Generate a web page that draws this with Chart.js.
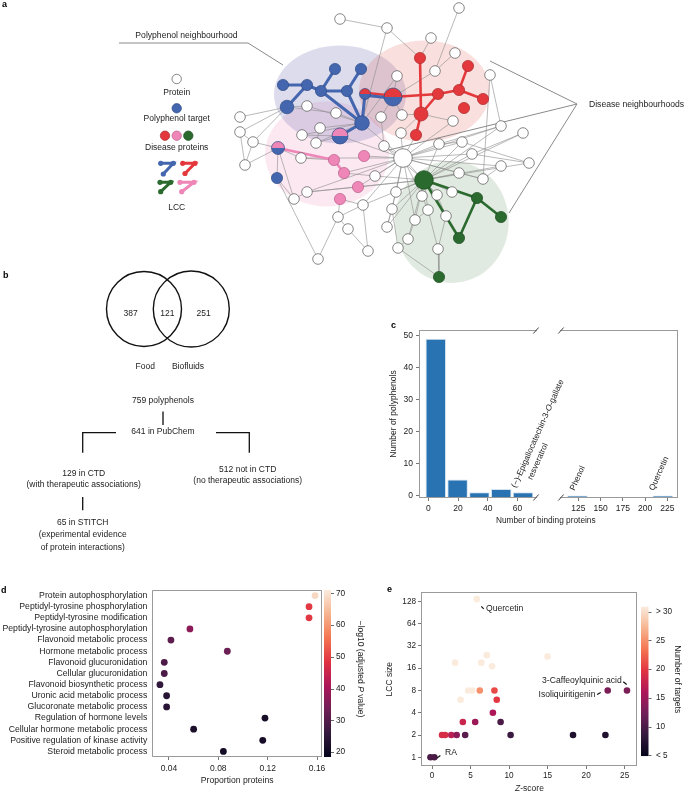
<!DOCTYPE html>
<html>
<head>
<meta charset="utf-8">
<script src="https://cdn.jsdelivr.net/npm/chart.js@4.4.1/dist/chart.umd.min.js"></script>
<style>
    html, body { margin: 0; padding: 0; background: #fff; }
    body { position: relative; width: 685px; height: 792px; overflow: hidden; font-family: "Liberation Sans", Arial, sans-serif; }
    .panel { position: absolute; }
    .tag { position: absolute; font-weight: bold; font-size: 9px; line-height: 10px; color: #000; }
</style>
</head>
<body>
<div class="panel" style="left:0;top:0;width:685px;height:285px"><canvas id="chartA"></canvas></div>
<div class="panel" style="left:0;top:262px;width:380px;height:300px"><canvas id="chartB"></canvas></div>
<div class="panel" style="left:378px;top:318px;width:307px;height:212px"><canvas id="chartC1"></canvas></div>
<div class="panel" style="left:540px;top:318px;width:145px;height:212px"><canvas id="chartC2"></canvas></div>
<div class="panel" style="left:0;top:582px;width:372px;height:210px"><canvas id="chartD"></canvas></div>
<div class="panel" style="left:378px;top:585px;width:307px;height:207px"><canvas id="chartE"></canvas></div>
<div class="tag" style="left:2px;top:-1px">a</div>
<div class="tag" style="left:3px;top:270px">b</div>
<div class="tag" style="left:391px;top:320px">c</div>
<div class="tag" style="left:1px;top:585px">d</div>
<div class="tag" style="left:387px;top:584px">e</div>

<script>
var FONT = '"Liberation Sans", Arial, Helvetica, sans-serif';
var INK = '#222';

// ---- a: interactome (node layout in figure pixels)
var proteinNodes = {
    w0: [459, 8], w1: [340, 19], w2: [387, 28], w3: [431, 38], w4: [455, 53], w5: [435, 71], w6: [397, 76],
    w7: [490, 75], w8: [307, 106], w9: [336, 113], w10: [381, 117], w11: [402, 115], w12: [240, 117],
    w13: [453, 121], w14: [240, 132], w15: [320, 128], w16: [253, 142], w17: [302, 135], w18: [316, 143],
    w19: [401, 133], w20: [501, 126], w21: [523, 133], w22: [384, 146], w23: [439, 144], w24: [462, 142],
    w25: [403, 158], w26: [472, 154], w27: [301, 158], w28: [245, 165], w29: [501, 166], w30: [529, 163],
    w31: [459, 173], w32: [483, 179], w33: [375, 176], w34: [307, 192], w35: [396, 192], w36: [422, 196],
    w37: [437, 195], w38: [452, 192], w39: [294, 199], w40: [363, 205], w41: [392, 209], w42: [428, 210],
    w43: [446, 216], w44: [338, 217], w45: [415, 220], w46: [387, 227], w47: [348, 229], w48: [408, 239],
    w49: [398, 248], w50: [438, 249], w51: [368, 251], w52: [318, 259]
};
var targetNodes = { b0: [335, 69], b1: [361, 69], b2: [283, 85], b3: [307, 85], b4: [321, 91], b5: [347, 91], b6: [287, 107], b7: [362, 123], b8: [277, 178] };
var redDiseaseNodes = { r0: [420, 58], r1: [468, 66], r2: [438, 94], r3: [459, 90], r4: [483, 99], r5: [464, 108], r6: [421, 114], r7: [416, 135] };
var pinkDiseaseNodes = { p0: [334, 160], p1: [364, 156], p2: [344, 173], p3: [358, 187], p4: [340, 199] };
var greenDiseaseNodes = { g0: [424, 180], g1: [477, 198], g2: [501, 217], g3: [459, 238], g4: [439, 277] };
var sharedNodes = { h0: [365, 94], h1: [393, 97], h2: [340, 136], h3: [278, 148] };
var sharedGroups = { h0: ['red', 'blue'], h1: ['red', 'blue'], h2: ['pink', 'blue'], h3: ['pink', 'blue'] };
var ppiEdges = [
    'w1-w2', 'w2-r0', 'w2-b7', 'w0-w5', 'w3-r0', 'w4-w5', 'w5-h1', 'w6-h1', 'w6-b7', 'w7-w20', 'w7-w32', 'w10-h1',
    'w11-h1', 'w11-r6', 'w19-r6', 'w13-r6', 'w13-w25', 'w19-w25', 'w22-w25', 'w22-w10', 'w23-w25', 'w24-w25',
    'w26-w25', 'w20-w25', 'w20-w23', 'w21-w26', 'w29-w25', 'w30-w24', 'w31-w25', 'w32-w25', 'w32-w29', 'w35-w25',
    'w36-w25', 'w37-w25', 'w41-w25', 'w45-w25', 'w40-w25', 'w33-w25', 'w27-w25', 'w34-w25', 'p1-w25', 'p2-w25',
    'p3-w25', 'r7-w25', 'h2-w25', 'b7-w25', 'w12-b6', 'w14-b6', 'w16-b6', 'w14-w16', 'w16-h3', 'w28-h3',
    'w28-w16', 'w28-w14', 'w8-b7', 'w9-b7', 'w15-b7', 'w17-b7', 'w18-b7', 'w15-w18', 'w17-h2', 'w18-h2',
    'w9-b6', 'w8-b6', 'h3-b8', 'b8-w52', 'h3-w39', 'w39-w34', 'w39-b8', 'w27-p0', 'w27-h3', 'w34-p3', 'w33-p2',
    'p4-w44', 'p4-w40', 'g0-w35', 'g0-w36', 'g0-w37', 'g0-w38', 'g0-w41', 'g0-w42', 'g0-w45', 'g0-w48',
    'g0-w46', 'g0-w40', 'g0-w31', 'g0-w24', 'g0-w26', 'g0-w29', 'g0-w21', 'g0-w22', 'g0-w33', 'g0-w34',
    'g0-p3', 'g0-w23', 'g0-w30', 'g0-w20', 'w43-w50', 'w50-g4', 'g4-w49', 'w49-w48', 'w48-w45', 'w50-w42',
    'w44-w40', 'w47-w44', 'w47-w51', 'w51-w40', 'w52-w44', 'w46-w41', 'w42-w45', 'w35-w46', 'w41-w49',
    'w36-w42', 'w37-w43', 'w31-w32', 'w23-w24', 'w26-w30'
];
var lccBlue = ['b2-b3', 'b3-b4', 'b4-b5', 'b0-b4', 'b1-b5', 'b6-b3', 'b4-b7', 'b5-b7', 'b7-h0', 'b7-h2', 'h0-h1'];
var lccRed = ['h0-h1', 'h1-r2', 'r0-r6', 'r6-r2', 'r6-r7', 'r2-r3', 'r3-r1', 'r3-r4'];
var lccPink = ['h3-p0', 'p0-p2'];
var lccGreen = ['g0-g1', 'g1-g2', 'g1-g3', 'g3-g0'];
var legendLabels = ['Protein', 'Polyphenol target', 'Disease proteins', 'LCC'];

// ---- b: polyphenol sets
var vennCounts = [387, 121, 251];
var vennSets = ['Food', 'Biofluids'];
var flowTop = ['759 polyphenols', '641 in PubChem'];
var flowInCtd = ['129 in CTD', '(with therapeutic associations)'];
var flowNotCtd = ['512 not in CTD', '(no therapeutic associations)'];
var flowStitch = ['65 in STITCH', '(experimental evidence', 'of protein interactions)'];

// ---- c: binding proteins per polyphenol
var binCentres = [5, 19.7, 34.4, 49.1, 63.8];
var binCounts = [49, 5, 1, 2, 1];
var binTicks = [0, 20, 40, 60];
var countTicks = [0, 10, 20, 30, 40, 50];
var lastBinNames = ['(\u2212)-Epigallocatechin-3-O-gallate', 'resveratrol'];
var outlierNames = ['Phenol', 'Quercetin'];
var outlierProteins = [124, 220];
var outlierCounts = [1, 1];
var outlierTicks = [125, 150, 175, 200, 225];

// ---- d: GO enrichment
var goTerms = [
    'Protein autophosphorylation', 'Peptidyl-tyrosine phosphorylation', 'Peptidyl-tyrosine modification',
    'Peptidyl-tyrosine autophosphorylation', 'Flavonoid metabolic process', 'Hormone metabolic process',
    'Flavonoid glucuronidation', 'Cellular glucuronidation', 'Flavonoid biosynthetic process',
    'Uronic acid metabolic process', 'Glucoronate metabolic process', 'Regulation of hormone levels',
    'Cellular hormone metabolic process', 'Positive regulation of kinase activity', 'Steroid metabolic process'
];
var goProportion = [0.1584, 0.1535, 0.1535, 0.057, 0.0416, 0.0873, 0.0362, 0.0362, 0.0327, 0.0381, 0.0381, 0.1178, 0.06, 0.116, 0.0841];
var goLogP = [68.5, 49, 49, 37, 31, 33, 29, 29, 25.5, 24, 24, 21.5, 22, 21.5, 21];
var propTicks = [0.04, 0.08, 0.12, 0.16];
var logPTicks = [20, 30, 40, 50, 60, 70];

// ---- e: LCC size vs z-score
var zScores = [5.8, 3.0, 7.1, 6.4, 7.8, 15.0, 4.7, 5.2, 3.7, 6.2, 8.1, 8.4, 7.9, 4.0, 5.6, 8.9, 1.3, 1.7, 2.5, 3.2, 4.3, 10.2, 18.3, 22.5, 22.8, 25.3, -0.2, 0.3];
var lccSizes = [137, 19, 24, 19, 17, 23, 8, 8, 6, 8, 8, 6, 4, 3, 3, 3, 2, 2, 2, 2, 2, 2, 2, 2, 8, 8, 1, 1];
var targetCounts = [31, 31, 31, 31, 31, 31, 31, 31, 31, 25, 21, 20, 16, 18, 15, 10, 19, 19, 17, 14, 11, 9, 7, 7, 13, 13, 10, 10];
var zTicks = [0, 5, 10, 15, 20, 25];
var lccTicks = [1, 2, 4, 8, 16, 32, 64, 128];
var targetTicks = [5, 10, 15, 20, 25, 30];
var namedPolyphenols = ['Quercetin', '3-Caffeoylquinic acid', 'Isoliquiritigenin', 'RA'];
var namedIndex = [0, 25, 24, 27];

var rocketStops = ['#03051a', '#35193e', '#701f57', '#ad1759', '#e13342', '#f37651', '#f6b48f', '#faebdd'];

function hexRgb(h) {
    return [parseInt(h.substr(1, 2), 16), parseInt(h.substr(3, 2), 16), parseInt(h.substr(5, 2), 16)];
}

function rocket(t) {
    t = Math.max(0, Math.min(1, t));
    var n = rocketStops.length - 1, p = t * n, i = Math.min(Math.floor(p), n - 1), f = p - i;
    var a = hexRgb(rocketStops[i]), b = hexRgb(rocketStops[i + 1]);
    return 'rgb(' + [0, 1, 2].map(function (k) { return Math.round(a[k] + (b[k] - a[k]) * f); }).join(',') + ')';
}

// text with optional italic pieces, e.g. ['adjusted ', {text: 'P', italic: true}, ' value']
function drawRich(ctx, parts, x, y, opt)
{
    opt = opt || {};
    var size = opt.size || 8.5;
    parts = parts.map(function (p) { return typeof p === 'string' ? {text: p} : p; });
    ctx.save();
    ctx.translate(x, y);
    ctx.rotate(opt.rot || 0);
    ctx.fillStyle = opt.color || INK;
    ctx.textBaseline = opt.baseline || 'middle';
    ctx.textAlign = 'left';
    var widths = parts.map(function (p) {
        ctx.font = (p.italic ? 'italic ' : '') + size + 'px ' + FONT;
        return ctx.measureText(p.text).width;
    });
    var total = widths.reduce(function (a, b) { return a + b; }, 0);
    var cx = opt.align === 'center' ? -total / 2 : (opt.align === 'right' ? -total : 0);
    parts.forEach(function (p, i) {
        ctx.font = (p.italic ? 'italic ' : '') + size + 'px ' + FONT;
        ctx.fillText(p.text, cx, 0);
        cx += widths[i];
    });
    ctx.restore();
}

Chart.defaults.font.family = FONT;
Chart.defaults.font.size = 8.5;
Chart.defaults.color = INK;
Chart.defaults.animation = false;
Chart.defaults.events = [];
Chart.defaults.maintainAspectRatio = false;
Chart.defaults.layout.autoPadding = false;
Chart.defaults.plugins.legend.display = false;
Chart.defaults.plugins.tooltip.enabled = false;

let FigureClass = function ()
{
    var _self = this;
    var COL = {
        blue: '#4466ae', red: '#e4393c', pink: '#ee86b7', green: '#2b6a2f',
        blueEdge: '#2d4a86', redEdge: '#a82a2c', pinkEdge: '#b8608a', greenEdge: '#1b4a1f'
    };
    var tickGrid = { display: true, drawOnChartArea: false, drawTicks: true, tickLength: 3, color: '#555', lineWidth: 0.8 };
    var hiddenGrid = function (len) {
        return { display: true, drawOnChartArea: false, drawTicks: true, tickLength: len, color: 'rgba(0,0,0,0)' };
    };
    var fixedTicks = function (list) {
        return function (scale) {
            scale.ticks = list.map(function (v) { return {value: v}; });
        };
    };

    this.el = function (id)
    {
        return document.getElementById(id);
    }

    this.diagramScales = function (x0, x1, y0, y1)
    {
        return {
            x: { type: 'linear', display: false, min: x0, max: x1 },
            y: { type: 'linear', display: false, min: y0, max: y1, reverse: true }
        };
    }

    this.frame = function (sides, breakSide)
    {
        return {
            id: 'frame',
            afterDraw: function (chart) {
                var a = chart.chartArea, ctx = chart.ctx;
                var l = Math.round(a.left) + 0.5, r = Math.round(a.right) - 0.5;
                var t = Math.round(a.top) + 0.5, b = Math.round(a.bottom) - 0.5;
                ctx.save();
                ctx.strokeStyle = '#9a9a9a';
                ctx.lineWidth = 1;
                ctx.beginPath();
                if (sides.indexOf('l') >= 0) { ctx.moveTo(l, t); ctx.lineTo(l, b); }
                if (sides.indexOf('r') >= 0) { ctx.moveTo(r, t); ctx.lineTo(r, b); }
                if (sides.indexOf('t') >= 0) { ctx.moveTo(a.left, t); ctx.lineTo(a.right, t); }
                if (sides.indexOf('b') >= 0) { ctx.moveTo(a.left, b); ctx.lineTo(a.right, b); }
                ctx.stroke();
                if (breakSide) {
                    var bx = breakSide === 'right' ? a.right - 1 : a.left + 1;
                    ctx.strokeStyle = '#444';
                    ctx.beginPath();
                    [t, b].forEach(function (y) {
                        ctx.moveTo(bx - 2.7, y + 3);
                        ctx.lineTo(bx + 2.7, y - 3);
                    });
                    ctx.stroke();
                }
                ctx.restore();
            }
        };
    }

    this.colourbar = function (id, from, to, gap, width, ticks)
    {
        return {
            id: id,
            afterDraw: function (chart) {
                var ctx = chart.ctx, s = chart.scales.cb, a = chart.chartArea;
                var x0 = a.right + gap, yTop = s.getPixelForValue(to), yBot = s.getPixelForValue(from);
                var grad = ctx.createLinearGradient(0, yBot, 0, yTop);
                for (var k = 0; k <= 28; k++) {
                    grad.addColorStop(k / 28, rocket(k / 28));
                }
                ctx.save();
                ctx.fillStyle = grad;
                ctx.fillRect(x0, yTop, width, yBot - yTop);
                ctx.strokeStyle = '#444';
                ctx.lineWidth = 0.8;
                ticks.forEach(function (v) {
                    var y = Math.round(s.getPixelForValue(v)) + 0.5;
                    ctx.beginPath();
                    ctx.moveTo(x0 + width, y);
                    ctx.lineTo(x0 + width + 3, y);
                    ctx.stroke();
                });
                ctx.restore();
            }
        };
    }

    this.buildNetwork = function ()
    {
        var allNodes = Object.assign({}, proteinNodes, targetNodes, redDiseaseNodes, pinkDiseaseNodes, greenDiseaseNodes, sharedNodes);
        var nodeRadius = { w25: 9.3, g0: 9.3, h1: 9, h2: 8, b7: 7.3, r6: 7, b6: 6.8, h3: 6.5, h0: 5.5 };
        var point = function (id) { return {x: allNodes[id][0], y: allNodes[id][1]}; };

        var nodeSet = function (group, fill, stroke, baseR) {
            var ids = Object.keys(group);
            return {
                data: ids.map(point),
                pointRadius: ids.map(function (id) { return nodeRadius[id] || baseR; }),
                pointBackgroundColor: fill, pointBorderColor: stroke, pointBorderWidth: 0.7,
                order: 0
            };
        };
        var edgeSets = function (list, colour, width, order, name) {
            return list.map(function (e) {
                var ab = e.split('-'), a = point(ab[0]), b = point(ab[1]);
                // the shared red/blue link is drawn as two parallel strokes
                if (e === 'h0-h1') {
                    var dy = name === 'red' ? -1.2 : 1.2;
                    a = {x: a.x, y: a.y + dy};
                    b = {x: b.x, y: b.y + dy};
                }
                return { data: [a, b], showLine: true, pointRadius: 0, borderColor: colour, borderWidth: width, order: order };
            });
        };

        var datasets = [
            nodeSet(proteinNodes, '#ffffff', '#555555', 5.3),
            nodeSet(targetNodes, COL.blue, COL.blueEdge, 5.6),
            nodeSet(redDiseaseNodes, COL.red, COL.redEdge, 5.6),
            nodeSet(pinkDiseaseNodes, COL.pink, COL.pinkEdge, 5.6),
            nodeSet(greenDiseaseNodes, COL.green, COL.greenEdge, 5.6),
            {
                data: [{x: 176.7, y: 79}, {x: 176.7, y: 108.3}, {x: 165, y: 135.7}, {x: 176.7, y: 135.7}, {x: 188.3, y: 135.7}],
                pointRadius: 4.7,
                pointBackgroundColor: ['#ffffff', COL.blue, COL.red, COL.pink, COL.green],
                pointBorderColor: ['#555555', COL.blueEdge, COL.redEdge, COL.pinkEdge, COL.greenEdge],
                pointBorderWidth: 0.7, order: 0
            }
        ];
        [
            ['blue', [[160.7, 163.3], [173.3, 163.3], [163.3, 174]]],
            ['red', [[182.7, 163.3], [195, 163.3], [185, 173.5]]],
            ['green', [[160, 182.3], [170.7, 182.3], [160.7, 191.7]]],
            ['pink', [[180, 182.3], [194, 182.3], [181.7, 191.7]]]
        ].forEach(function (g) {
            datasets.push({
                data: g[1].map(function (p) { return {x: p[0], y: p[1]}; }),
                showLine: true, borderColor: COL[g[0]], borderWidth: 3,
                pointRadius: 2.6, pointBackgroundColor: COL[g[0]], pointBorderWidth: 0, order: 0
            });
        });
        datasets = datasets
            .concat(edgeSets(lccBlue, COL.blue, 3, 1, 'blue'))
            .concat(edgeSets(lccRed, COL.red, 2.6, 1, 'red'))
            .concat(edgeSets(lccPink, COL.pink, 2.6, 1, 'pink'))
            .concat(edgeSets(lccGreen, COL.green, 2.6, 1, 'green'))
            .concat(edgeSets(ppiEdges, '#8c8c8c', 0.6, 2, 'ppi'));

        // neighbourhood pointers
        [
            [[119, 43], [248, 43], [283, 65]],
            [[577, 104], [490, 61]],
            [[577, 104], [389, 150]],
            [[577, 104], [509, 213]]
        ].forEach(function (line) {
            datasets.push({
                data: line.map(function (p) { return {x: p[0], y: p[1]}; }),
                showLine: true, pointRadius: 0, borderColor: '#8a8a8a', borderWidth: 1, order: 2
            });
        });

        var hoods = [
            {c: [327, 154], r: [62, 52.5], fill: 'rgba(238,140,185,0.2)'},
            {c: [340, 94.5], r: [66, 49], fill: 'rgba(125,125,190,0.27)'},
            {c: [424.5, 91], r: [65.5, 50.5], fill: 'rgba(225,95,85,0.2)'},
            {c: [451.7, 222], r: [57, 61], fill: 'rgba(105,150,100,0.2)'}
        ];

        new Chart(_self.el('chartA'), {
            type: 'scatter',
            data: { datasets: datasets },
            options: {
                responsive: true,
                layout: { padding: 0 },
                scales: _self.diagramScales(0, 685, 0, 285)
            },
            plugins: [{
                id: 'networkDecor',
                beforeDatasetsDraw: function (chart) {
                    var ctx = chart.ctx, sx = chart.scales.x, sy = chart.scales.y;
                    ctx.save();
                    hoods.forEach(function (h) {
                        var cx = sx.getPixelForValue(h.c[0]), cy = sy.getPixelForValue(h.c[1]);
                        var rx = sx.getPixelForValue(h.c[0] + h.r[0]) - cx, ry = sy.getPixelForValue(h.c[1] + h.r[1]) - cy;
                        ctx.beginPath();
                        ctx.ellipse(cx, cy, Math.abs(rx), Math.abs(ry), 0, 0, Math.PI * 2);
                        ctx.fillStyle = h.fill;
                        ctx.fill();
                    });
                    ctx.restore();
                },
                afterDatasetsDraw: function (chart) {
                    var ctx = chart.ctx, sx = chart.scales.x, sy = chart.scales.y;
                    var X = function (v) { return sx.getPixelForValue(v); };
                    var Y = function (v) { return sy.getPixelForValue(v); };
                    ctx.save();
                    Object.keys(sharedNodes).forEach(function (id) {
                        var p = sharedNodes[id], g = sharedGroups[id];
                        var x = X(p[0]), y = Y(p[1]), r = nodeRadius[id];
                        ctx.beginPath();
                        ctx.arc(x, y, r, Math.PI, 0);
                        ctx.closePath();
                        ctx.fillStyle = COL[g[0]];
                        ctx.fill();
                        ctx.beginPath();
                        ctx.arc(x, y, r, 0, Math.PI);
                        ctx.closePath();
                        ctx.fillStyle = COL[g[1]];
                        ctx.fill();
                        ctx.beginPath();
                        ctx.arc(x, y, r, 0, Math.PI * 2);
                        ctx.strokeStyle = COL.blueEdge;
                        ctx.lineWidth = 0.7;
                        ctx.stroke();
                    });
                    ctx.restore();
                    drawRich(ctx, [legendLabels[0]], X(176.7), Y(92.7), {align: 'center'});
                    drawRich(ctx, [legendLabels[1]], X(176.7), Y(119), {align: 'center'});
                    drawRich(ctx, [legendLabels[2]], X(176.7), Y(147.7), {align: 'center'});
                    drawRich(ctx, [legendLabels[3]], X(176.7), Y(207.7), {align: 'center'});
                    drawRich(ctx, ['Polyphenol neighbourhood'], X(186.5), Y(35.7), {align: 'center', size: 8.6});
                    drawRich(ctx, ['Disease neighbourhoods'], X(589), Y(104.3), {size: 8.6});
                }
            }]
        });
    }

    this.buildFlow = function ()
    {
        var line = function (pts) {
            return {
                data: pts.map(function (p) { return {x: p[0], y: p[1]}; }),
                showLine: true, pointRadius: 0, borderColor: '#111', borderWidth: 1.3
            };
        };
        new Chart(_self.el('chartB'), {
            type: 'scatter',
            data: {
                datasets: [
                    {
                        data: [{x: 144, y: 309}, {x: 191.3, y: 309}],
                        pointRadius: [37.5, 38], pointBackgroundColor: 'rgba(0,0,0,0)',
                        pointBorderColor: '#111', pointBorderWidth: 1.4
                    },
                    line([[163, 411.5], [163, 425]]),
                    line([[116, 432.7], [82.7, 432.7], [82.7, 452.7]]),
                    line([[216, 432.7], [249.3, 432.7], [249.3, 452.7]]),
                    line([[82.7, 497], [82.7, 510.3]])
                ]
            },
            options: {
                responsive: true,
                layout: { padding: 0 },
                scales: _self.diagramScales(0, 380, 262, 562)
            },
            plugins: [{
                id: 'flowText',
                afterDatasetsDraw: function (chart) {
                    var ctx = chart.ctx, sx = chart.scales.x, sy = chart.scales.y;
                    var put = function (txt, x, y) {
                        drawRich(ctx, [txt], sx.getPixelForValue(x), sy.getPixelForValue(y), {align: 'center', size: 8.5});
                    };
                    put(String(vennCounts[0]), 130.7, 313.3);
                    put(String(vennCounts[1]), 167.3, 313.3);
                    put(String(vennCounts[2]), 203.7, 313.3);
                    put(vennSets[0], 145.3, 367);
                    put(vennSets[1], 188, 367);
                    put(flowTop[0], 163, 400.3);
                    put(flowTop[1], 163, 432);
                    put(flowInCtd[0], 83.7, 473.7);
                    put(flowInCtd[1], 83.7, 484.7);
                    put(flowNotCtd[0], 247.7, 469.7);
                    put(flowNotCtd[1], 247.7, 480.7);
                    put(flowStitch[0], 82.7, 522.3);
                    put(flowStitch[1], 82.7, 535);
                    put(flowStitch[2], 82.7, 547.3);
                }
            }]
        });
    }

    this.buildHistogram = function ()
    {
        var rot = -66 * Math.PI / 180;
        var nudges = { lastBin: [[-7, -4], [9, -12]], outliers: [[-3, -5], [-9, -5]] };

        new Chart(_self.el('chartC1'), {
            type: 'bar',
            data: {
                datasets: [{
                    data: binCentres.map(function (c, i) { return {x: c, y: binCounts[i]}; }),
                    backgroundColor: '#2a73b3', borderColor: '#d3e3f0', borderWidth: 1,
                    barPercentage: 1, categoryPercentage: 0.94, base: -0.78
                }]
            },
            options: {
                responsive: true,
                layout: { padding: { top: 12, right: 148, left: 0, bottom: 0 } },
                scales: {
                    x: {
                        type: 'linear', min: -6.3, max: 73.2, offset: false,
                        afterBuildTicks: fixedTicks(binTicks),
                        grid: Object.assign({}, tickGrid, {offset: false}), border: { display: false },
                        ticks: { padding: 2.5, font: { size: 8.5 }, maxRotation: 0, autoSkip: false },
                        afterFit: function (s) { s.height = 32; }
                    },
                    y: {
                        min: -0.78, max: 51.7,
                        afterBuildTicks: fixedTicks(countTicks),
                        grid: tickGrid, border: { display: false },
                        ticks: { padding: 3, font: { size: 8.5 }, autoSkip: false },
                        title: { display: true, text: 'Number of polyphenols', font: { size: 8.5 }, padding: { top: 10.5, bottom: 0 } },
                        afterFit: function (s) { s.width = 41; }
                    }
                }
            },
            plugins: [_self.frame('ltb', 'right'), {
                id: 'binLabels',
                afterDraw: function (chart) {
                    var ctx = chart.ctx, sx = chart.scales.x, sy = chart.scales.y;
                    var bx = sx.getPixelForValue(binCentres[4]), by = sy.getPixelForValue(binCounts[4]);
                    var n = nudges.lastBin;
                    drawRich(ctx, ['(\u2212)-Epigallocatechin-3-', {text: 'O', italic: true}, '-gallate'],
                        bx + n[0][0], by + n[0][1], {rot: rot, baseline: 'alphabetic', size: 8.3});
                    drawRich(ctx, [lastBinNames[1]], bx + n[1][0], by + n[1][1], {rot: rot, baseline: 'alphabetic', size: 8.3});
                    drawRich(ctx, ['Number of binding proteins'], 167.8, 202.7, {align: 'center', size: 8.3});
                }
            }]
        });

        new Chart(_self.el('chartC2'), {
            type: 'bar',
            data: {
                datasets: [{
                    data: outlierProteins.map(function (p, i) { return {x: p, y: outlierCounts[i]}; }),
                    backgroundColor: '#2a73b3', borderColor: '#d3e3f0', borderWidth: 1, barThickness: 20
                }]
            },
            options: {
                responsive: true,
                layout: { padding: { top: 12, right: 7, left: 20, bottom: 0 } },
                scales: {
                    x: {
                        type: 'linear', min: 104.4, max: 237, offset: false,
                        afterBuildTicks: fixedTicks(outlierTicks),
                        grid: Object.assign({}, tickGrid, {offset: false}), border: { display: false },
                        ticks: { padding: 2.5, font: { size: 8.5 }, maxRotation: 0, autoSkip: false },
                        afterFit: function (s) { s.height = 32; }
                    },
                    y: { display: false, min: 0, max: 80 }
                }
            },
            plugins: [_self.frame('trb', 'left'), {
                id: 'outlierLabels',
                afterDraw: function (chart) {
                    var ctx = chart.ctx, sx = chart.scales.x, sy = chart.scales.y;
                    outlierNames.forEach(function (name, i) {
                        var n = nudges.outliers[i];
                        drawRich(ctx, [name], sx.getPixelForValue(outlierProteins[i]) + n[0], sy.getPixelForValue(outlierCounts[i]) + n[1],
                            {rot: rot, baseline: 'alphabetic', size: 8.3});
                    });
                }
            }]
        });
    }

    this.buildEnrichment = function ()
    {
        var lo = 18.42, hi = 71.04;
        new Chart(_self.el('chartD'), {
            type: 'scatter',
            data: {
                datasets: [{
                    data: goTerms.map(function (t, i) { return {x: goProportion[i], y: t}; }),
                    pointRadius: 3.4, pointBorderWidth: 0,
                    pointBackgroundColor: goLogP.map(function (v) { return rocket((v - lo) / (hi - lo)); })
                }]
            },
            options: {
                responsive: true,
                layout: { padding: { top: 8, left: 0, right: 0, bottom: 0 } },
                scales: {
                    x: {
                        type: 'linear', min: 0.0265, max: 0.164,
                        afterBuildTicks: fixedTicks(propTicks),
                        grid: tickGrid, border: { display: false },
                        ticks: { callback: function (v) { return v.toFixed(2); }, padding: 3.5, font: { size: 8.5 }, maxRotation: 0, autoSkip: false },
                        title: { display: true, text: 'Proportion proteins', font: { size: 8.6 }, padding: { top: 0, bottom: 6.5 } },
                        afterFit: function (s) { s.height = 35; }
                    },
                    y: {
                        type: 'category', labels: goTerms, offset: true,
                        grid: hiddenGrid(4), border: { display: false },
                        ticks: { padding: 1, font: { size: 8.7 }, autoSkip: false },
                        afterFit: function (s) { s.width = 152.3; }
                    },
                    cb: {
                        type: 'linear', position: 'right', min: lo, max: hi,
                        afterBuildTicks: fixedTicks(logPTicks),
                        grid: hiddenGrid(12), border: { display: false },
                        ticks: { padding: 2, font: { size: 8.3 }, autoSkip: false },
                        afterFit: function (s) { s.width = 50; }
                    }
                }
            },
            plugins: [_self.frame('ltrb'), _self.colourbar('cbD', lo, hi, 2, 7, logPTicks), {
                id: 'cbTitleD',
                afterDraw: function (chart) {
                    drawRich(chart.ctx, ['\u2212log10 (adjusted ', {text: 'P', italic: true}, ' value)'],
                        chart.chartArea.right + 38, 87, {rot: Math.PI / 2, align: 'center', size: 8.5});
                }
            }]
        });
    }

    this.buildLcc = function ()
    {
        var lo = 4.9, hi = 30.87;
        var notes = [
            {dx: 9.3, dy: 9, align: 'left', lead: [4.6, 7.3, 7, 9.7]},
            {dx: -5.3, dy: -10.3, align: 'right', lead: [-3.7, -8.7, -0.3, -6]},
            {dx: -12.3, dy: 4, align: 'right', lead: [-10.6, 4, -7, 2]},
            {dx: 10.7, dy: -5, align: 'left', lead: [2.7, 0.6, 6, -1.7]}
        ];
        new Chart(_self.el('chartE'), {
            type: 'scatter',
            data: {
                datasets: [{
                    data: zScores.map(function (z, i) { return {x: z, y: lccSizes[i]}; }),
                    pointRadius: 3.3, pointBorderWidth: 0,
                    pointBackgroundColor: targetCounts.map(function (v) { return rocket((v - lo) / (hi - lo)); })
                }]
            },
            options: {
                responsive: true,
                layout: { padding: { top: 7.3, left: 0, right: 0, bottom: 0 } },
                scales: {
                    x: {
                        type: 'linear', min: -1.43, max: 26.6,
                        afterBuildTicks: fixedTicks(zTicks),
                        grid: tickGrid, border: { display: false },
                        ticks: { padding: 1.5, font: { size: 8.2 }, maxRotation: 0, autoSkip: false },
                        afterFit: function (s) { s.height = 26; }
                    },
                    y: {
                        type: 'logarithmic', min: 0.763, max: 169.5,
                        afterBuildTicks: fixedTicks(lccTicks),
                        grid: tickGrid, border: { display: false },
                        ticks: { callback: function (v) { return String(v); }, padding: 2, font: { size: 8.2 }, autoSkip: false },
                        title: { display: true, text: 'LCC size', font: { size: 8.5 }, padding: { top: 7, bottom: 0 } },
                        afterFit: function (s) { s.width = 43; }
                    },
                    cb: {
                        type: 'linear', position: 'right', min: 3.17, max: 33.37,
                        afterBuildTicks: fixedTicks(targetTicks),
                        grid: hiddenGrid(17), border: { display: false },
                        ticks: {
                            callback: function (v) { return v === 5 ? '< 5' : (v === 30 ? '> 30' : String(v)); },
                            padding: 2, font: { size: 8.2 }, autoSkip: false
                        },
                        title: { display: true, text: 'Number of targets', font: { size: 8.5 }, padding: { top: 2.3, bottom: 0 } },
                        afterFit: function (s) { s.width = 48; }
                    }
                }
            },
            plugins: [_self.frame('ltrb'), _self.colourbar('cbE', lo, hi, 4, 7.5, targetTicks), {
                id: 'lccNotes',
                afterDraw: function (chart) {
                    var ctx = chart.ctx, sx = chart.scales.x, sy = chart.scales.y;
                    namedPolyphenols.forEach(function (name, k) {
                        var i = namedIndex[k], n = notes[k];
                        var px = sx.getPixelForValue(zScores[i]), py = sy.getPixelForValue(lccSizes[i]);
                        ctx.save();
                        ctx.strokeStyle = '#111';
                        ctx.lineWidth = 1.2;
                        ctx.beginPath();
                        ctx.moveTo(px + n.lead[0], py + n.lead[1]);
                        ctx.lineTo(px + n.lead[2], py + n.lead[3]);
                        ctx.stroke();
                        ctx.restore();
                        drawRich(ctx, [name], px + n.dx, py + n.dy, {align: n.align, size: 8.6});
                    });
                    var a = chart.chartArea;
                    drawRich(ctx, [{text: 'Z', italic: true}, '-score'], (a.left + a.right) / 2 + 0.5, 203.7, {align: 'center', size: 8.5});
                }
            }]
        });
    }

    this.init = function ()
    {
        _self.buildNetwork();
        _self.buildFlow();
        _self.buildHistogram();
        _self.buildEnrichment();
        _self.buildLcc();
    }

    _self.init();
}

var Figure = new FigureClass();
</script>
</body>
</html>
